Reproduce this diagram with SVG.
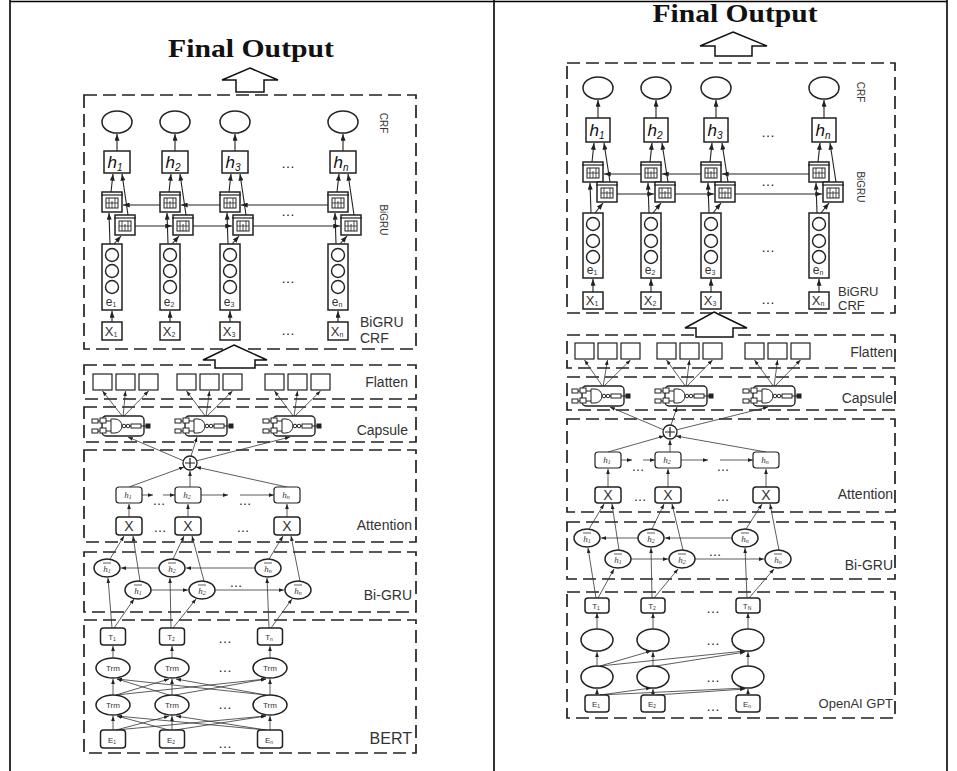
<svg xmlns="http://www.w3.org/2000/svg" xmlns:xlink="http://www.w3.org/1999/xlink" width="957" height="771" viewBox="0 0 957 771">
<style>
.tb{stroke:#000;stroke-width:1.6;fill:none}
.d{fill:none;stroke:#222;stroke-width:1.7;stroke-dasharray:13 6}
.c{fill:none;stroke:#222;stroke-width:1.1;marker-end:url(#m)}
.cs{fill:none;stroke:#333;stroke-width:.8;marker-end:url(#s)}
.n{fill:#fff;stroke:#222;stroke-width:1.5}
.nt{fill:#fff;stroke:#222;stroke-width:1.2}
.lb{font-family:"Liberation Sans",Arial,sans-serif;fill:#333}
.dt{font-family:"Liberation Sans",Arial,sans-serif;fill:#222}
.hi{font-family:"Liberation Sans",Arial,sans-serif;font-style:italic;fill:#111}
.sm{font-family:"Liberation Serif","Times New Roman",serif;font-style:italic;fill:#333}
.ttl{font-family:"Liberation Serif","Times New Roman",serif;font-weight:bold;fill:#111}
.big{fill:#fff;stroke:#111;stroke-width:1.5}
</style>
<defs>
<marker id="m" viewBox="0 0 8 6" refX="8" refY="3" markerWidth="7" markerHeight="5" orient="auto" markerUnits="userSpaceOnUse"><path d="M0,0L8,3L0,6z" fill="#222"/></marker>
<marker id="s" viewBox="0 0 8 6" refX="8" refY="3" markerWidth="5" markerHeight="4" orient="auto" markerUnits="userSpaceOnUse"><path d="M0,0L8,3L0,6z" fill="#222"/></marker>
<g id="g">
<rect x="-10" y="-10" width="20" height="20" fill="#fff" stroke="#222" stroke-width="1.5"/>
<line x1="-11" y1="-7" x2="11" y2="-7" stroke="#222" stroke-width="1.2"/>
<rect x="-6" y="-4" width="12" height="10" fill="none" stroke="#222" stroke-width="1"/>
<path d="M-3,-4V6M0,-1V6M3,-4V6M-6,1H6" stroke="#222" stroke-width=".8" fill="none"/>
</g>
<g id="cp" fill="#fff" stroke="#222" stroke-width="1">
<rect x="10" y="0" width="42" height="20" rx="4" stroke-width="1.4"/>
<rect x="0" y="3" width="6" height="4"/><rect x="8" y="2" width="6" height="5"/>
<rect x="0" y="13" width="6" height="4"/><rect x="8" y="12" width="6" height="5"/>
<path d="M14,5H19M14,15H19M6,5H8M6,15H8" fill="none"/>
<path d="M19,3H23A7,7 0 0 1 23,17H19Z"/>
<path d="M30,10H39" fill="none"/>
<circle cx="32" cy="10" r="1.8"/><circle cx="36" cy="10" r="1.8"/>
<rect x="39" y="8" width="10" height="4"/>
<path d="M49,10H54" fill="none"/>
<rect x="54" y="8" width="4" height="4" fill="#222"/>
</g>
<g id="sum"><circle r="7" fill="#fff" stroke="#222" stroke-width="1.3"/><path d="M-5,0H5M0,-5V5" stroke="#222" stroke-width="1.2"/></g>
</defs>
<rect width="957" height="771" fill="#fff"/>

<g id="table">
<line class="tb" x1="10" y1="1.5" x2="947" y2="1.5"/>
<line class="tb" x1="10" y1="0" x2="10" y2="771"/>
<line class="tb" x1="494" y1="0" x2="494" y2="771"/>
<line class="tb" x1="947" y1="0" x2="947" y2="771"/>
</g>

<!-- ================= LEFT PANEL ================= -->
<g id="L-boxes">
<rect class="d" x="84" y="95" width="332" height="254"/>
<rect class="d" x="84" y="365" width="332" height="34"/>
<rect class="d" x="84" y="407" width="332" height="35"/>
<rect class="d" x="84" y="450" width="332" height="92"/>
<rect class="d" x="84" y="552" width="332" height="60"/>
<rect class="d" x="84" y="620" width="332" height="133"/>
</g>

<g id="L-connectors">
<line class="c" x1="117" y1="151" x2="117" y2="134"/>
<line class="c" x1="175" y1="151" x2="175" y2="134"/>
<line class="c" x1="235" y1="151" x2="235" y2="134"/>
<line class="c" x1="343" y1="151" x2="343" y2="134"/>
<line class="c" x1="111" y1="192" x2="113" y2="174"/><line class="c" x1="128" y1="215" x2="122" y2="174"/>
<line class="c" x1="169" y1="192" x2="171" y2="174"/><line class="c" x1="186" y1="215" x2="180" y2="174"/>
<line class="c" x1="229" y1="192" x2="231" y2="174"/><line class="c" x1="246" y1="215" x2="240" y2="174"/>
<line class="c" x1="337" y1="192" x2="339" y2="174"/><line class="c" x1="354" y1="215" x2="348" y2="174"/>
<line class="c" x1="110" y1="244" x2="109" y2="213"/><line class="c" x1="114" y1="244" x2="121" y2="236"/>
<line class="c" x1="168" y1="244" x2="167" y2="213"/><line class="c" x1="172" y1="244" x2="179" y2="236"/>
<line class="c" x1="228" y1="244" x2="227" y2="213"/><line class="c" x1="232" y1="244" x2="239" y2="236"/>
<line class="c" x1="336" y1="244" x2="335" y2="213"/><line class="c" x1="340" y1="244" x2="347" y2="236"/>
<line class="c" x1="160" y1="205" x2="123" y2="205"/>
<line class="c" x1="220" y1="205" x2="181" y2="205"/>
<line class="c" x1="328" y1="205" x2="241" y2="205"/>
<line class="c" x1="135" y1="226" x2="172" y2="226"/>
<line class="c" x1="193" y1="226" x2="232" y2="226"/>
<line class="c" x1="253" y1="226" x2="340" y2="226"/>
<line class="c" x1="112" y1="322" x2="112" y2="311"/>
<line class="c" x1="170" y1="322" x2="170" y2="311"/>
<line class="c" x1="230" y1="322" x2="230" y2="311"/>
<line class="c" x1="338" y1="322" x2="338" y2="311"/>
<line class="cs" x1="123" y1="417" x2="102.5" y2="391"/><line class="cs" x1="123" y1="417" x2="125.5" y2="391"/><line class="cs" x1="123" y1="417" x2="148.5" y2="391"/>
<line class="cs" x1="206" y1="417" x2="186.5" y2="391"/><line class="cs" x1="206" y1="417" x2="209.5" y2="391"/><line class="cs" x1="206" y1="417" x2="232.5" y2="391"/>
<line class="cs" x1="294" y1="417" x2="274.5" y2="391"/><line class="cs" x1="294" y1="417" x2="297.5" y2="391"/><line class="cs" x1="294" y1="417" x2="320.5" y2="391"/>
<line class="cs" x1="184" y1="461" x2="128" y2="437"/>
<line class="cs" x1="191" y1="456" x2="197" y2="437"/>
<line class="cs" x1="196" y1="461" x2="290" y2="437"/>
<line class="cs" x1="129" y1="487" x2="184" y2="467"/>
<line class="cs" x1="190" y1="487" x2="190" y2="471"/>
<line class="cs" x1="287" y1="487" x2="196" y2="467"/>
<line class="cs" x1="142" y1="495" x2="153" y2="495"/>
<line class="cs" x1="163" y1="495" x2="175" y2="495"/>
<line class="cs" x1="201" y1="495" x2="228" y2="495"/>
<line class="cs" x1="240" y1="495" x2="274" y2="495"/>
<line class="cs" x1="129" y1="517" x2="129" y2="504"/>
<line class="cs" x1="188" y1="517" x2="188" y2="504"/>
<line class="cs" x1="287" y1="517" x2="287" y2="504"/>
<line class="cs" x1="110" y1="559" x2="124" y2="536"/><line class="cs" x1="140" y1="581" x2="133" y2="536"/>
<line class="cs" x1="173" y1="559" x2="184" y2="536"/><line class="cs" x1="204" y1="581" x2="192" y2="536"/>
<line class="cs" x1="269" y1="559" x2="283" y2="536"/><line class="cs" x1="300" y1="581" x2="291" y2="536"/>
<line class="cs" x1="255" y1="568" x2="186" y2="568"/>
<line class="cs" x1="159" y1="568" x2="121" y2="568"/>
<line class="cs" x1="151" y1="590" x2="188" y2="590"/>
<line class="cs" x1="215" y1="590" x2="284" y2="590"/>
<line class="cs" x1="112" y1="628" x2="108" y2="578"/><line class="cs" x1="114" y1="628" x2="134" y2="599"/>
<line class="cs" x1="171" y1="628" x2="170" y2="578"/><line class="cs" x1="173" y1="628" x2="196" y2="599"/>
<line class="cs" x1="269" y1="628" x2="267" y2="578"/><line class="cs" x1="271" y1="628" x2="292" y2="599"/>
<line class="cs" x1="113" y1="658" x2="113" y2="646"/><line class="cs" x1="172" y1="658" x2="172" y2="646"/><line class="cs" x1="270" y1="658" x2="270" y2="646"/>
<line class="cs" x1="113" y1="695" x2="113" y2="679"/><line class="cs" x1="172" y1="695" x2="172" y2="679"/><line class="cs" x1="270" y1="695" x2="270" y2="679"/>
<line class="cs" x1="113" y1="730" x2="113" y2="716"/><line class="cs" x1="172" y1="730" x2="172" y2="716"/><line class="cs" x1="270" y1="730" x2="270" y2="716"/>
<line class="cs" x1="116" y1="695" x2="169" y2="679"/><line class="cs" x1="116" y1="695" x2="266" y2="679"/>
<line class="cs" x1="169" y1="695" x2="117" y2="679"/><line class="cs" x1="175" y1="695" x2="266" y2="679"/>
<line class="cs" x1="266" y1="695" x2="117" y2="679"/><line class="cs" x1="266" y1="695" x2="176" y2="679"/>
<line class="cs" x1="116" y1="730" x2="169" y2="716"/><line class="cs" x1="116" y1="730" x2="266" y2="716"/>
<line class="cs" x1="169" y1="730" x2="117" y2="716"/><line class="cs" x1="175" y1="730" x2="266" y2="716"/>
<line class="cs" x1="266" y1="730" x2="117" y2="716"/><line class="cs" x1="266" y1="730" x2="176" y2="716"/>
</g>

<g id="L-title">
<text class="ttl" x="251" y="57" font-size="26" text-anchor="middle" textLength="166" lengthAdjust="spacingAndGlyphs">Final Output</text>
<polygon class="big" points="250,68 278,80 264,80 264,92 236,92 236,80 222,80"/>
</g>

<g id="L-crf">
<ellipse class="n" cx="117" cy="122" rx="15" ry="11"/>
<ellipse class="n" cx="175" cy="122" rx="15" ry="11"/>
<ellipse class="n" cx="235" cy="122" rx="15" ry="11"/>
<ellipse class="n" cx="343" cy="122" rx="15" ry="11"/>
<text class="lb" font-size="10" transform="translate(380,123) rotate(90)" text-anchor="middle">CRF</text>
</g>
<g id="L-h">
<rect class="n" x="104" y="151" width="26" height="22"/>
<rect class="n" x="162" y="151" width="26" height="22"/>
<rect class="n" x="222" y="151" width="26" height="22"/>
<rect class="n" x="330" y="151" width="26" height="22"/>
<text class="hi" x="115" y="168" font-size="17" text-anchor="middle">h<tspan font-size="10" dy="3">1</tspan></text>
<text class="hi" x="173" y="168" font-size="17" text-anchor="middle">h<tspan font-size="10" dy="3">2</tspan></text>
<text class="hi" x="233" y="168" font-size="17" text-anchor="middle">h<tspan font-size="10" dy="3">3</tspan></text>
<text class="hi" x="341" y="168" font-size="17" text-anchor="middle">h<tspan font-size="10" dy="3">n</tspan></text>
<text class="dt" x="288" y="168" font-size="14" text-anchor="middle">…</text>
</g>
<g id="L-bigru">
<use href="#g" x="112" y="202"/><use href="#g" x="125" y="225"/>
<use href="#g" x="170" y="202"/><use href="#g" x="183" y="225"/>
<use href="#g" x="230" y="202"/><use href="#g" x="243" y="225"/>
<use href="#g" x="338" y="202"/><use href="#g" x="351" y="225"/>
<text class="dt" x="288" y="216" font-size="14" text-anchor="middle">…</text>
<text class="lb" font-size="10" transform="translate(380,220) rotate(90)" text-anchor="middle">BiGRU</text>
</g>
<g id="L-e">
<rect class="n" x="102" y="244" width="20" height="66"/>
<rect class="n" x="160" y="244" width="20" height="66"/>
<rect class="n" x="220" y="244" width="20" height="66"/>
<rect class="n" x="328" y="244" width="20" height="66"/>
<g fill="none" stroke="#222" stroke-width="1.4">
<circle cx="112" cy="255" r="6.5"/><circle cx="112" cy="271" r="6.5"/><circle cx="112" cy="287" r="6.5"/>
<circle cx="170" cy="255" r="6.5"/><circle cx="170" cy="271" r="6.5"/><circle cx="170" cy="287" r="6.5"/>
<circle cx="230" cy="255" r="6.5"/><circle cx="230" cy="271" r="6.5"/><circle cx="230" cy="287" r="6.5"/>
<circle cx="338" cy="255" r="6.5"/><circle cx="338" cy="271" r="6.5"/><circle cx="338" cy="287" r="6.5"/>
</g>
<text class="lb" x="111" y="306" font-size="12" text-anchor="middle">e<tspan font-size="7" dy="1">1</tspan></text>
<text class="lb" x="169" y="306" font-size="12" text-anchor="middle">e<tspan font-size="7" dy="1">2</tspan></text>
<text class="lb" x="229" y="306" font-size="12" text-anchor="middle">e<tspan font-size="7" dy="1">3</tspan></text>
<text class="lb" x="337" y="306" font-size="12" text-anchor="middle">e<tspan font-size="7" dy="1">n</tspan></text>
<text class="dt" x="288" y="283" font-size="14" text-anchor="middle">…</text>
</g>
<g id="L-x">
<rect class="n" x="102" y="322" width="20" height="18"/>
<rect class="n" x="160" y="322" width="20" height="18"/>
<rect class="n" x="220" y="322" width="20" height="18"/>
<rect class="n" x="328" y="322" width="20" height="18"/>
<text class="lb" x="111" y="336" font-size="13" text-anchor="middle">X<tspan font-size="7" dy="1">1</tspan></text>
<text class="lb" x="169" y="336" font-size="13" text-anchor="middle">X<tspan font-size="7" dy="1">2</tspan></text>
<text class="lb" x="229" y="336" font-size="13" text-anchor="middle">X<tspan font-size="7" dy="1">3</tspan></text>
<text class="lb" x="337" y="336" font-size="13" text-anchor="middle">X<tspan font-size="7" dy="1">n</tspan></text>
<text class="dt" x="288" y="335" font-size="14" text-anchor="middle">…</text>
<text class="lb" x="360" y="327" font-size="14">BiGRU</text>
<text class="lb" x="360" y="343" font-size="14">CRF</text>
</g>
<g id="L-bigarrow"><polygon class="big" points="234,345 267,360 255,360 255,368 215,368 215,360 203,360"/></g>
<g id="L-flatten">
<g class="nt">
<rect x="93" y="374" width="19" height="16"/><rect x="116" y="374" width="19" height="16"/><rect x="139" y="374" width="19" height="16"/>
<rect x="177" y="374" width="19" height="16"/><rect x="200" y="374" width="19" height="16"/><rect x="223" y="374" width="19" height="16"/>
<rect x="265" y="374" width="19" height="16"/><rect x="288" y="374" width="19" height="16"/><rect x="311" y="374" width="19" height="16"/>
</g>
<text class="lb" x="408" y="387" font-size="14" text-anchor="end">Flatten</text>
</g>
<g id="L-capsule">
<use href="#cp" x="92" y="416"/><use href="#cp" x="175" y="416"/><use href="#cp" x="263" y="416"/>
<text class="lb" x="408" y="435" font-size="14" text-anchor="end">Capsule</text>
</g>
<g id="L-attention">
<use href="#sum" x="190" y="463"/>
<g class="nt">
<rect x="116" y="487" width="26" height="16" rx="3"/><rect x="175" y="487" width="26" height="16" rx="3"/><rect x="274" y="487" width="26" height="16" rx="3"/>
<rect x="116" y="517" width="26" height="18" rx="3" stroke-width="1.5"/><rect x="175" y="517" width="26" height="18" rx="3" stroke-width="1.5"/><rect x="274" y="517" width="26" height="18" rx="3" stroke-width="1.5"/>
</g>
<text class="sm" x="128" y="498" font-size="9" text-anchor="middle">h<tspan font-size="6" dy="1">1</tspan></text>
<text class="sm" x="187" y="498" font-size="9" text-anchor="middle">h<tspan font-size="6" dy="1">2</tspan></text>
<text class="sm" x="286" y="498" font-size="9" text-anchor="middle">h<tspan font-size="6" dy="1">n</tspan></text>
<text class="lb" x="129" y="531" font-size="14" text-anchor="middle">X</text>
<text class="lb" x="188" y="531" font-size="14" text-anchor="middle">X</text>
<text class="lb" x="287" y="531" font-size="14" text-anchor="middle">X</text>
<text class="dt" x="159" y="505" font-size="13" text-anchor="middle">…</text>
<text class="dt" x="245" y="505" font-size="13" text-anchor="middle">…</text>
<text class="dt" x="160" y="532" font-size="13" text-anchor="middle">…</text>
<text class="dt" x="243" y="532" font-size="13" text-anchor="middle">…</text>
<text class="lb" x="412" y="530" font-size="14" text-anchor="end">Attention</text>
</g>
<g id="L-bigru2">
<g class="n">
<ellipse cx="107" cy="568" rx="13" ry="9"/><ellipse cx="172" cy="568" rx="13" ry="9"/><ellipse cx="268" cy="568" rx="13" ry="9"/>
<ellipse cx="138" cy="590" rx="13" ry="9"/><ellipse cx="202" cy="590" rx="13" ry="9"/><ellipse cx="298" cy="590" rx="13" ry="9"/>
</g>
<path d="M103,563H111M168,563H176M264,563H272M134,585H142M198,585H206M294,585H302" stroke="#333" stroke-width=".8"/>
<text class="sm" x="107" y="572" font-size="9" text-anchor="middle">h<tspan font-size="6" dy="1">1</tspan></text>
<text class="sm" x="172" y="572" font-size="9" text-anchor="middle">h<tspan font-size="6" dy="1">2</tspan></text>
<text class="sm" x="268" y="572" font-size="9" text-anchor="middle">h<tspan font-size="6" dy="1">n</tspan></text>
<text class="sm" x="138" y="594" font-size="9" text-anchor="middle">h<tspan font-size="6" dy="1">1</tspan></text>
<text class="sm" x="202" y="594" font-size="9" text-anchor="middle">h<tspan font-size="6" dy="1">2</tspan></text>
<text class="sm" x="298" y="594" font-size="9" text-anchor="middle">h<tspan font-size="6" dy="1">n</tspan></text>
<text class="dt" x="236" y="587" font-size="13" text-anchor="middle">…</text>
<text class="lb" x="412" y="600" font-size="14" text-anchor="end">Bi-GRU</text>
</g>
<g id="L-bert">
<g class="n">
<rect x="100.5" y="628" width="25" height="17" rx="3"/><rect x="159.5" y="628" width="25" height="17" rx="3"/><rect x="257.5" y="628" width="25" height="17" rx="3"/>
<ellipse cx="113" cy="668" rx="17" ry="10"/><ellipse cx="172" cy="668" rx="17" ry="10"/><ellipse cx="270" cy="668" rx="17" ry="10"/>
<ellipse cx="113" cy="705" rx="17" ry="10"/><ellipse cx="172" cy="705" rx="17" ry="10"/><ellipse cx="270" cy="705" rx="17" ry="10"/>
<rect x="100.5" y="730" width="25" height="18" rx="3"/><rect x="159.5" y="730" width="25" height="18" rx="3"/><rect x="257.5" y="730" width="25" height="18" rx="3"/>
</g>
<g class="lb" font-size="8" text-anchor="middle">
<text x="112" y="640">T<tspan font-size="5" dy="1">1</tspan></text><text x="171" y="640">T<tspan font-size="5" dy="1">2</tspan></text><text x="269" y="640">T<tspan font-size="5" dy="1">n</tspan></text>
<text x="113" y="671">Trm</text><text x="172" y="671">Trm</text><text x="270" y="671">Trm</text>
<text x="113" y="708">Trm</text><text x="172" y="708">Trm</text><text x="270" y="708">Trm</text>
<text x="112" y="743">E<tspan font-size="5" dy="1">1</tspan></text><text x="171" y="743">E<tspan font-size="5" dy="1">2</tspan></text><text x="269" y="743">E<tspan font-size="5" dy="1">n</tspan></text>
</g>
<g class="dt" font-size="14" text-anchor="middle">
<text x="225" y="643">…</text><text x="225" y="672">…</text><text x="225" y="709">…</text><text x="225" y="748">…</text>
</g>
<text class="lb" x="412" y="744" font-size="16" text-anchor="end">BERT</text>
</g>

<!-- ================= RIGHT PANEL ================= -->
<g id="R-boxes">
<rect class="d" x="567" y="63" width="328" height="250"/>
<rect class="d" x="567" y="335" width="328" height="33"/>
<rect class="d" x="567" y="377" width="328" height="33"/>
<rect class="d" x="567" y="419" width="328" height="93"/>
<rect class="d" x="567" y="522" width="328" height="57"/>
<rect class="d" x="567" y="592" width="328" height="126"/>
</g>

<g id="R-connectors">
<line class="c" x1="598" y1="118" x2="598" y2="100"/>
<line class="c" x1="656" y1="118" x2="656" y2="100"/>
<line class="c" x1="716" y1="118" x2="716" y2="100"/>
<line class="c" x1="824" y1="118" x2="824" y2="100"/>
<line class="c" x1="592" y1="162" x2="594" y2="143"/><line class="c" x1="610" y1="182" x2="604" y2="143"/>
<line class="c" x1="650" y1="162" x2="652" y2="143"/><line class="c" x1="668" y1="182" x2="662" y2="143"/>
<line class="c" x1="710" y1="162" x2="712" y2="143"/><line class="c" x1="728" y1="182" x2="722" y2="143"/>
<line class="c" x1="818" y1="162" x2="820" y2="143"/><line class="c" x1="836" y1="182" x2="830" y2="143"/>
<line class="c" x1="591" y1="213" x2="590" y2="183"/><line class="c" x1="595" y1="213" x2="603" y2="203"/>
<line class="c" x1="649" y1="213" x2="648" y2="183"/><line class="c" x1="653" y1="213" x2="661" y2="203"/>
<line class="c" x1="709" y1="213" x2="708" y2="183"/><line class="c" x1="713" y1="213" x2="721" y2="203"/>
<line class="c" x1="817" y1="213" x2="816" y2="183"/><line class="c" x1="821" y1="213" x2="829" y2="203"/>
<line class="c" x1="641" y1="174" x2="604" y2="174"/>
<line class="c" x1="701" y1="174" x2="662" y2="174"/>
<line class="c" x1="809" y1="174" x2="722" y2="174"/>
<line class="c" x1="617" y1="194" x2="654" y2="194"/>
<line class="c" x1="675" y1="194" x2="714" y2="194"/>
<line class="c" x1="735" y1="194" x2="822" y2="194"/>
<line class="c" x1="593" y1="292" x2="593" y2="279"/>
<line class="c" x1="651" y1="292" x2="651" y2="279"/>
<line class="c" x1="711" y1="292" x2="711" y2="279"/>
<line class="c" x1="819" y1="292" x2="819" y2="279"/>
<line class="cs" x1="603" y1="387" x2="584.5" y2="360"/><line class="cs" x1="603" y1="387" x2="607.5" y2="360"/><line class="cs" x1="603" y1="387" x2="630.5" y2="360"/>
<line class="cs" x1="686" y1="387" x2="666.5" y2="360"/><line class="cs" x1="686" y1="387" x2="689.5" y2="360"/><line class="cs" x1="686" y1="387" x2="712.5" y2="360"/>
<line class="cs" x1="774" y1="387" x2="754.5" y2="360"/><line class="cs" x1="774" y1="387" x2="777.5" y2="360"/><line class="cs" x1="774" y1="387" x2="800.5" y2="360"/>
<line class="cs" x1="664" y1="430" x2="610" y2="407"/>
<line class="cs" x1="671" y1="425" x2="677" y2="407"/>
<line class="cs" x1="676" y1="430" x2="768" y2="407"/>
<line class="cs" x1="608" y1="452" x2="664" y2="436"/>
<line class="cs" x1="670" y1="452" x2="670" y2="440"/>
<line class="cs" x1="766" y1="452" x2="676" y2="436"/>
<line class="cs" x1="621" y1="460" x2="632" y2="460"/>
<line class="cs" x1="643" y1="460" x2="655" y2="460"/>
<line class="cs" x1="681" y1="460" x2="708" y2="460"/>
<line class="cs" x1="720" y1="460" x2="753" y2="460"/>
<line class="cs" x1="608" y1="487" x2="608" y2="469"/>
<line class="cs" x1="668" y1="487" x2="668" y2="469"/>
<line class="cs" x1="766" y1="487" x2="766" y2="469"/>
<line class="cs" x1="589" y1="529" x2="604" y2="504"/><line class="cs" x1="619" y1="550" x2="612" y2="504"/>
<line class="cs" x1="652" y1="529" x2="664" y2="504"/><line class="cs" x1="683" y1="550" x2="672" y2="504"/>
<line class="cs" x1="746" y1="529" x2="762" y2="504"/><line class="cs" x1="779" y1="550" x2="770" y2="504"/>
<line class="cs" x1="732" y1="538" x2="665" y2="538"/>
<line class="cs" x1="638" y1="538" x2="601" y2="538"/>
<line class="cs" x1="631" y1="559" x2="668" y2="559"/>
<line class="cs" x1="695" y1="559" x2="764" y2="559"/>
<line class="cs" x1="596" y1="598" x2="588" y2="548"/><line class="cs" x1="598" y1="598" x2="614" y2="569"/>
<line class="cs" x1="652" y1="598" x2="651" y2="548"/><line class="cs" x1="654" y1="598" x2="678" y2="569"/>
<line class="cs" x1="747" y1="598" x2="745" y2="548"/><line class="cs" x1="749" y1="598" x2="774" y2="569"/>
<line class="cs" x1="597" y1="629" x2="597" y2="613"/><line class="cs" x1="653" y1="629" x2="653" y2="613"/><line class="cs" x1="748" y1="629" x2="748" y2="613"/>
<line class="cs" x1="597" y1="666" x2="597" y2="652"/><line class="cs" x1="653" y1="666" x2="653" y2="652"/><line class="cs" x1="748" y1="666" x2="748" y2="652"/>
<line class="cs" x1="597" y1="695" x2="597" y2="689"/><line class="cs" x1="653" y1="695" x2="653" y2="689"/><line class="cs" x1="748" y1="695" x2="748" y2="689"/>
<line class="cs" x1="600" y1="666" x2="651" y2="651"/><line class="cs" x1="600" y1="666" x2="745" y2="651"/><line class="cs" x1="656" y1="666" x2="745" y2="652"/>
<line class="cs" x1="600" y1="695" x2="651" y2="688"/><line class="cs" x1="600" y1="695" x2="745" y2="688"/><line class="cs" x1="656" y1="695" x2="745" y2="689"/>
</g>

<g id="R-title">
<text class="ttl" x="735" y="22" font-size="26" text-anchor="middle" textLength="165" lengthAdjust="spacingAndGlyphs">Final Output</text>
<polygon class="big" points="733,32 767,46 752,46 752,56 715,56 715,46 700,46"/>
</g>
<g id="R-crf">
<ellipse class="n" cx="598" cy="88" rx="15" ry="11"/>
<ellipse class="n" cx="656" cy="88" rx="15" ry="11"/>
<ellipse class="n" cx="716" cy="88" rx="15" ry="11"/>
<ellipse class="n" cx="824" cy="88" rx="15" ry="11"/>
<text class="lb" font-size="10" transform="translate(857,92) rotate(90)" text-anchor="middle">CRF</text>
</g>
<g id="R-h">
<rect class="n" x="586" y="118" width="24" height="24"/>
<rect class="n" x="644" y="118" width="24" height="24"/>
<rect class="n" x="704" y="118" width="24" height="24"/>
<rect class="n" x="812" y="118" width="24" height="24"/>
<text class="hi" x="597" y="136" font-size="17" text-anchor="middle">h<tspan font-size="10" dy="3">1</tspan></text>
<text class="hi" x="655" y="136" font-size="17" text-anchor="middle">h<tspan font-size="10" dy="3">2</tspan></text>
<text class="hi" x="715" y="136" font-size="17" text-anchor="middle">h<tspan font-size="10" dy="3">3</tspan></text>
<text class="hi" x="823" y="136" font-size="17" text-anchor="middle">h<tspan font-size="10" dy="3">n</tspan></text>
<text class="dt" x="768" y="137" font-size="14" text-anchor="middle">…</text>
</g>
<g id="R-bigru">
<use href="#g" x="593" y="172"/><use href="#g" x="607" y="192"/>
<use href="#g" x="651" y="172"/><use href="#g" x="665" y="192"/>
<use href="#g" x="711" y="172"/><use href="#g" x="725" y="192"/>
<use href="#g" x="819" y="172"/><use href="#g" x="833" y="192"/>
<text class="dt" x="768" y="186" font-size="14" text-anchor="middle">…</text>
<text class="lb" font-size="10" transform="translate(857,187) rotate(90)" text-anchor="middle">BiGRU</text>
</g>
<g id="R-e">
<rect class="n" x="583" y="213" width="20" height="65"/>
<rect class="n" x="641" y="213" width="20" height="65"/>
<rect class="n" x="701" y="213" width="20" height="65"/>
<rect class="n" x="809" y="213" width="20" height="65"/>
<g fill="none" stroke="#222" stroke-width="1.4">
<circle cx="593" cy="224" r="6.5"/><circle cx="593" cy="241" r="6.5"/><circle cx="593" cy="257" r="6.5"/>
<circle cx="651" cy="224" r="6.5"/><circle cx="651" cy="241" r="6.5"/><circle cx="651" cy="257" r="6.5"/>
<circle cx="711" cy="224" r="6.5"/><circle cx="711" cy="241" r="6.5"/><circle cx="711" cy="257" r="6.5"/>
<circle cx="819" cy="224" r="6.5"/><circle cx="819" cy="241" r="6.5"/><circle cx="819" cy="257" r="6.5"/>
</g>
<text class="lb" x="592" y="274" font-size="12" text-anchor="middle">e<tspan font-size="7" dy="1">1</tspan></text>
<text class="lb" x="650" y="274" font-size="12" text-anchor="middle">e<tspan font-size="7" dy="1">2</tspan></text>
<text class="lb" x="710" y="274" font-size="12" text-anchor="middle">e<tspan font-size="7" dy="1">3</tspan></text>
<text class="lb" x="818" y="274" font-size="12" text-anchor="middle">e<tspan font-size="7" dy="1">n</tspan></text>
<text class="dt" x="768" y="252" font-size="14" text-anchor="middle">…</text>
</g>
<g id="R-x">
<rect class="n" x="583" y="292" width="20" height="17"/>
<rect class="n" x="641" y="292" width="20" height="17"/>
<rect class="n" x="701" y="292" width="20" height="17"/>
<rect class="n" x="809" y="292" width="20" height="17"/>
<text class="lb" x="592" y="305" font-size="13" text-anchor="middle">X<tspan font-size="7" dy="1">1</tspan></text>
<text class="lb" x="650" y="305" font-size="13" text-anchor="middle">X<tspan font-size="7" dy="1">2</tspan></text>
<text class="lb" x="710" y="305" font-size="13" text-anchor="middle">X<tspan font-size="7" dy="1">3</tspan></text>
<text class="lb" x="818" y="305" font-size="13" text-anchor="middle">X<tspan font-size="7" dy="1">n</tspan></text>
<text class="dt" x="768" y="304" font-size="14" text-anchor="middle">…</text>
<text class="lb" x="838" y="296" font-size="13">BiGRU</text>
<text class="lb" x="838" y="310" font-size="13">CRF</text>
</g>
<g id="R-bigarrow"><polygon class="big" points="714,312 747,328 733,328 733,337 696,337 696,328 685,328"/></g>
<g id="R-flatten">
<g class="nt">
<rect x="575" y="343" width="19" height="16"/><rect x="598" y="343" width="19" height="16"/><rect x="621" y="343" width="19" height="16"/>
<rect x="657" y="343" width="19" height="16"/><rect x="680" y="343" width="19" height="16"/><rect x="703" y="343" width="19" height="16"/>
<rect x="745" y="343" width="19" height="16"/><rect x="768" y="343" width="19" height="16"/><rect x="791" y="343" width="19" height="16"/>
</g>
<text class="lb" x="893" y="357" font-size="14" text-anchor="end">Flatten</text>
</g>
<g id="R-capsule">
<use href="#cp" x="572" y="386"/><use href="#cp" x="655" y="386"/><use href="#cp" x="743" y="386"/>
<text class="lb" x="893" y="403" font-size="14" text-anchor="end">Capsule</text>
</g>
<g id="R-attention">
<use href="#sum" x="670" y="432"/>
<g class="nt">
<rect x="595" y="452" width="26" height="16" rx="3"/><rect x="655" y="452" width="26" height="16" rx="3"/><rect x="753" y="452" width="26" height="16" rx="3"/>
<rect x="595" y="487" width="26" height="16" rx="3" stroke-width="1.5"/><rect x="655" y="487" width="26" height="16" rx="3" stroke-width="1.5"/><rect x="753" y="487" width="26" height="16" rx="3" stroke-width="1.5"/>
</g>
<text class="sm" x="607" y="463" font-size="9" text-anchor="middle">h<tspan font-size="6" dy="1">1</tspan></text>
<text class="sm" x="667" y="463" font-size="9" text-anchor="middle">h<tspan font-size="6" dy="1">2</tspan></text>
<text class="sm" x="765" y="463" font-size="9" text-anchor="middle">h<tspan font-size="6" dy="1">n</tspan></text>
<text class="lb" x="608" y="500" font-size="14" text-anchor="middle">X</text>
<text class="lb" x="668" y="500" font-size="14" text-anchor="middle">X</text>
<text class="lb" x="766" y="500" font-size="14" text-anchor="middle">X</text>
<text class="dt" x="638" y="471" font-size="13" text-anchor="middle">…</text>
<text class="dt" x="723" y="471" font-size="13" text-anchor="middle">…</text>
<text class="dt" x="640" y="501" font-size="13" text-anchor="middle">…</text>
<text class="dt" x="723" y="501" font-size="13" text-anchor="middle">…</text>
<text class="lb" x="893" y="499" font-size="14" text-anchor="end">Attention</text>
</g>
<g id="R-bigru2">
<g class="n">
<ellipse cx="587" cy="538" rx="13" ry="9"/><ellipse cx="651" cy="538" rx="13" ry="9"/><ellipse cx="745" cy="538" rx="13" ry="9"/>
<ellipse cx="618" cy="559" rx="13" ry="9"/><ellipse cx="682" cy="559" rx="13" ry="9"/><ellipse cx="778" cy="559" rx="13" ry="9"/>
</g>
<path d="M583,533H591M647,533H655M741,533H749M614,554H622M678,554H686M774,554H782" stroke="#333" stroke-width=".8"/>
<text class="sm" x="587" y="542" font-size="9" text-anchor="middle">h<tspan font-size="6" dy="1">1</tspan></text>
<text class="sm" x="651" y="542" font-size="9" text-anchor="middle">h<tspan font-size="6" dy="1">2</tspan></text>
<text class="sm" x="745" y="542" font-size="9" text-anchor="middle">h<tspan font-size="6" dy="1">n</tspan></text>
<text class="sm" x="618" y="563" font-size="9" text-anchor="middle">h<tspan font-size="6" dy="1">1</tspan></text>
<text class="sm" x="682" y="563" font-size="9" text-anchor="middle">h<tspan font-size="6" dy="1">2</tspan></text>
<text class="sm" x="778" y="563" font-size="9" text-anchor="middle">h<tspan font-size="6" dy="1">n</tspan></text>
<text class="dt" x="715" y="556" font-size="13" text-anchor="middle">…</text>
<text class="lb" x="893" y="570" font-size="14" text-anchor="end">Bi-GRU</text>
</g>
<g id="R-gpt">
<g class="n">
<rect x="585" y="598" width="24" height="15" rx="3"/><rect x="641" y="598" width="24" height="15" rx="3"/><rect x="736" y="598" width="24" height="15" rx="3"/>
<ellipse cx="597" cy="640" rx="16" ry="11"/><ellipse cx="653" cy="640" rx="16" ry="11"/><ellipse cx="748" cy="640" rx="16" ry="11"/>
<ellipse cx="597" cy="677" rx="16" ry="11"/><ellipse cx="653" cy="677" rx="16" ry="11"/><ellipse cx="748" cy="677" rx="16" ry="11"/>
<rect x="585" y="695" width="24" height="17" rx="3"/><rect x="641" y="695" width="24" height="17" rx="3"/><rect x="736" y="695" width="24" height="17" rx="3"/>
</g>
<g class="lb" font-size="8" text-anchor="middle">
<text x="596" y="609">T<tspan font-size="5" dy="1">1</tspan></text><text x="652" y="609">T<tspan font-size="5" dy="1">2</tspan></text><text x="747" y="609">T<tspan font-size="5" dy="1">N</tspan></text>
<text x="596" y="707">E<tspan font-size="5" dy="1">1</tspan></text><text x="652" y="707">E<tspan font-size="5" dy="1">2</tspan></text><text x="747" y="707">E<tspan font-size="5" dy="1">n</tspan></text>
</g>
<g class="dt" font-size="14" text-anchor="middle">
<text x="713" y="613">…</text><text x="713" y="645">…</text><text x="713" y="682">…</text><text x="713" y="711">…</text>
</g>
<text class="lb" x="893" y="708" font-size="13" text-anchor="end">OpenAI GPT</text>
</g>
</svg>
